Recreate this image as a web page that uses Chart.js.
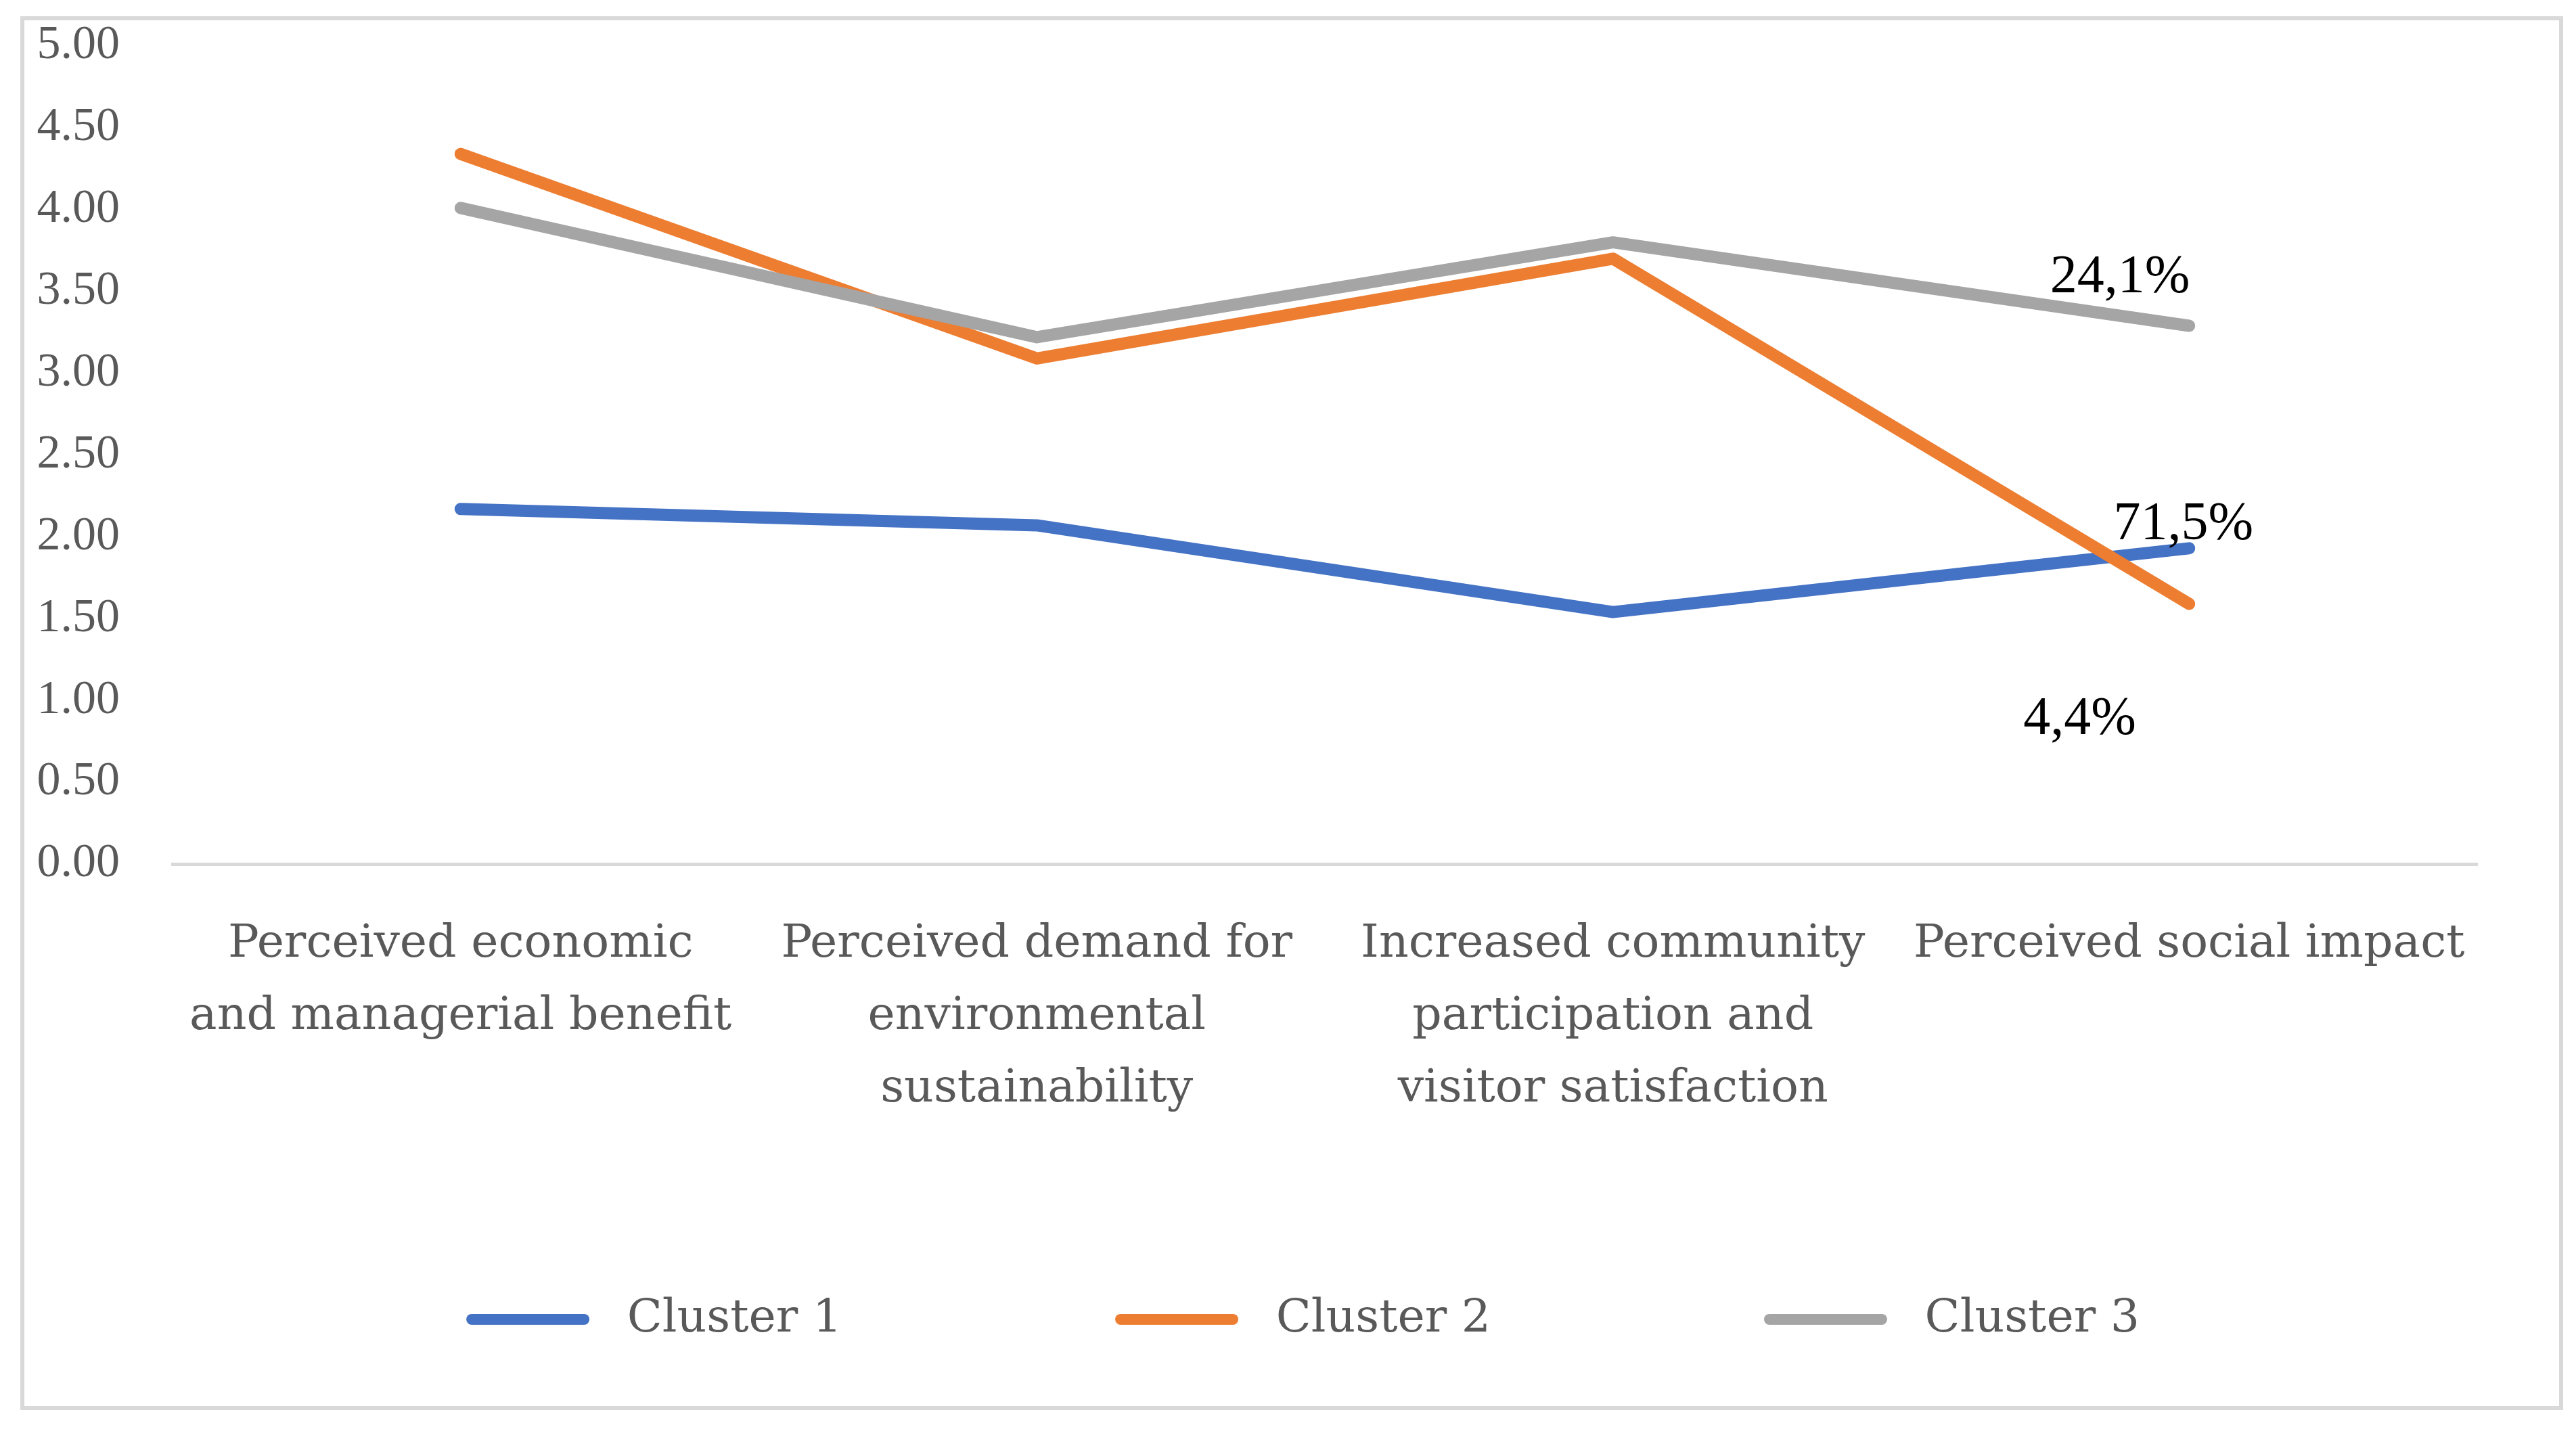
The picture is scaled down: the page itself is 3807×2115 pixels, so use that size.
<!DOCTYPE html>
<html>
<head>
<meta charset="utf-8">
<script src="https://cdn.jsdelivr.net/npm/chart.js@4.4.1/dist/chart.umd.min.js"></script>
<style>
  html, body { margin: 0; padding: 0; background: #fff; }
  #marco { position: absolute; left: 30px; top: 24px; width: 3746px; height: 2048px; border: 6px solid #d9d9d9; }
  #grafico { position: absolute; left: 0; top: 0; }
</style>
</head>
<body>
<div id="marco"></div>
<canvas id="grafico" width="3807" height="2115"></canvas>
<script>
const categorias = [
    ['Perceived economic', 'and managerial benefit'],
    ['Perceived demand for', 'environmental', 'sustainability'],
    ['Increased community', 'participation and', 'visitor satisfaction'],
    ['Perceived social impact']
]
const nombres = ['Cluster 1', 'Cluster 2', 'Cluster 3']
const cluster1 = [2.17, 2.07, 1.54, 1.93]
const cluster2 = [4.34, 3.09, 3.70, 1.59]
const cluster3 = [4.01, 3.22, 3.80, 3.29]
const colores = ['#4472c4', '#ed7d31', '#a5a5a5']

// porcentajes escritos junto al final de las lineas
const notas = ['24,1%', '71,5%', '4,4%']
const notasX = [2.88, 2.99, 2.81]
const notasY = [3.58, 2.07, 0.88]

// espacios alrededor del texto de la leyenda para separar los items
const nb = '\u00a0'
const antes = [nb, nb, nb]
const despues = [nb.repeat(7) + '\u2009', nb.repeat(7) + '\u2009', nb.repeat(3)]

function sinRelleno(scale){
    // que el padding automatico de las etiquetas no mueva el area del grafico
    scale.paddingTop = 0
    scale.paddingBottom = 0
    scale.paddingLeft = 0
    scale.paddingRight = 0
}

function grafico_lineas(){

    const ctx = document.getElementById('grafico')
    const series = [cluster1, cluster2, cluster3]

    const textos = {
        id: 'textos',
        afterDatasetsDraw(chart){
            const c = chart.ctx
            const x = chart.scales.x
            const y = chart.scales.y
            c.save()
            c.font = '80px "Liberation Serif"'
            c.fillStyle = '#000'
            c.textAlign = 'center'
            c.textBaseline = 'middle'
            notas.forEach((t, i) => {
                c.fillText(t, x.getPixelForValue(notasX[i]), y.getPixelForValue(notasY[i]))
            })
            c.restore()
        }
    }

    new Chart(ctx, {
        type: 'line',
        data: {
            labels: categorias,
            datasets: series.map((s, i) => ({
                label: nombres[i],
                data: s,
                borderColor: colores[i],
                backgroundColor: colores[i],
                borderWidth: 18,
                borderCapStyle: 'round',
                borderJoinStyle: 'round',
                pointRadius: 0,
                tension: 0,
                order: 3 - i  // como en excel, la ultima serie queda arriba
            }))
        },
        options: {
            responsive: false,
            animation: false,
            devicePixelRatio: 1,
            layout: { autoPadding: false, padding: { top: 68, left: 54, right: 146, bottom: 121 } },
            plugins: {
                tooltip: { enabled: false },
                legend: {
                    position: 'bottom',
                    fullSize: false,
                    labels: {
                        boxWidth: 182,
                        boxHeight: 16,
                        padding: 239,
                        color: '#595959',
                        font: { family: 'DejaVu Serif', size: 68 },
                        generateLabels(chart){
                            const items = Chart.defaults.plugins.legend.labels.generateLabels(chart)
                            items.sort((a, b) => a.datasetIndex - b.datasetIndex)
                            items.forEach((it, i) => {
                                it.text = antes[i] + nombres[i] + despues[i]
                                it.lineWidth = 0
                                it.borderRadius = 8
                            })
                            return items
                        }
                    }
                }
            },
            scales: {
                x: {
                    offset: true,
                    grid: { display: false, drawTicks: false },
                    border: { display: true, color: '#d9d9d9', width: 5 },
                    ticks: {
                        color: '#595959',
                        font: { family: 'DejaVu Serif', size: 68, lineHeight: 1.57 },
                        padding: 66,
                        maxRotation: 0,
                        autoSkip: false
                    },
                    afterFit(scale){
                        scale.height = 400
                        sinRelleno(scale)
                    }
                },
                y: {
                    min: 0,
                    max: 5,
                    grid: { display: false, drawTicks: false },
                    border: { display: false },
                    ticks: {
                        stepSize: 0.5,
                        color: '#595959',
                        font: { family: 'Liberation Serif', size: 70 },
                        padding: 78,
                        callback: v => v.toFixed(2)
                    },
                    afterFit(scale){
                        scale.width = 201
                        sinRelleno(scale)
                    }
                }
            }
        },
        plugins: [textos]
    })
}

grafico_lineas()
</script>
</body>
</html>
